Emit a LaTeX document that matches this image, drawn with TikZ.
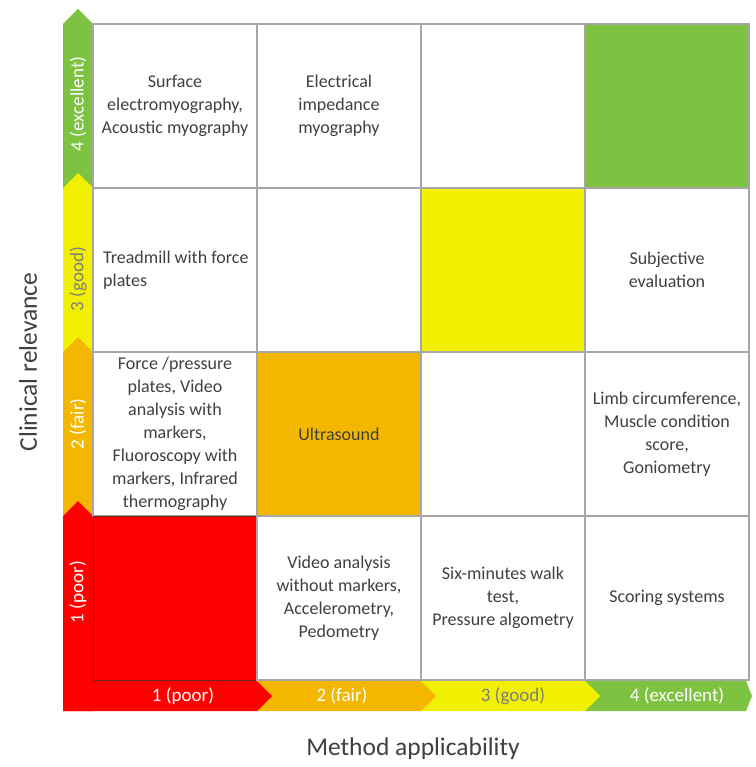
\documentclass[tikz,border=0pt]{standalone}
\usepackage{fontspec}
\setmainfont{Carlito}
\definecolor{redc}{HTML}{FF0000}
\definecolor{orangec}{HTML}{F3B700}
\definecolor{yellowc}{HTML}{F0F000}
\definecolor{greenc}{HTML}{7EC242}
\definecolor{gridgray}{HTML}{A6A6A6}
\definecolor{textgray}{HTML}{404040}
\definecolor{labgray}{HTML}{7F7F7F}
\definecolor{redborder}{HTML}{7A2020}
\begin{document}
\begin{tikzpicture}[x=1pt,y=-1pt,
  cell/.style={draw=gridgray, line width=1.4pt, minimum width=164pt, minimum height=164pt, inner sep=0pt, anchor=center, font=\fontsize{18}{23}\selectfont, align=center, text=textgray},
  lab/.style={font=\fontsize{19}{22}\selectfont, text=white, inner sep=0pt},
  axis/.style={font=\fontsize{25.5}{30}\selectfont, text=textgray, inner sep=0pt},
]
\useasboundingbox (0,0) rectangle (755,767);
\fill[white] (0,0) rectangle (755,767);

% left arrow (clinical relevance)
\fill[greenc] (63,188) -- (63,24) -- (78,9) -- (93,24) -- (93,188) -- cycle;
\fill[yellowc] (63,352) -- (63,188) -- (78,173) -- (93,188) -- (93,352) -- cycle;
\fill[orangec] (63,516) -- (63,352) -- (78,337) -- (93,352) -- (93,516) -- cycle;
\fill[redc] (63,711) -- (63,516) -- (78,501) -- (93,516) -- (93,711) -- cycle;

% bottom arrow (method applicability)
\fill[greenc] (585,681) -- (746,681) -- (752,696) -- (746,711) -- (585,711) -- cycle;
\fill[yellowc] (421,681) -- (585,681) -- (600,696) -- (585,711) -- (421,711) -- cycle;
\fill[orangec] (257,681) -- (421,681) -- (436,696) -- (421,711) -- (257,711) -- cycle;
\fill[redc] (63,681) -- (257,681) -- (272,696) -- (257,711) -- (63,711) -- cycle;

% grid cells
\node[cell] (c14) at (175,106) {Surface\\electromyography,\\Acoustic myography};
\node[cell] (c24) at (339,106) {Electrical\\impedance\\myography};
\node[cell] (c34) at (503,106) {};
\node[cell, fill=greenc] (c44) at (667,106) {};

\node[cell] (c13) at (175,270) {};
\node[cell] (c23) at (339,270) {};
\node[cell, fill=yellowc] (c33) at (503,270) {};
\node[cell] (c43) at (667,270) {Subjective\\evaluation};

\node[cell] (c12) at (175,434) {Force /pressure\\plates, Video\\analysis with\\markers,\\Fluoroscopy with\\markers, Infrared\\thermography};
\node[cell, fill=orangec] (c22) at (339,434) {Ultrasound};
\node[cell] (c32) at (503,434) {};
\node[cell] (c42) at (667,434) {Limb circumference,\\Muscle condition\\score,\\Goniometry};

\node[cell, fill=redc, draw=redborder, line width=1pt] (c11) at (175,598) {};
\node[cell] (c21) at (339,598) {Video analysis\\without markers,\\Accelerometry,\\Pedometry};
\node[cell] (c31) at (503,598) {Six-minutes walk\\test,\\Pressure algometry};
\node[cell] (c41) at (667,598) {Scoring systems};

\node[font=\fontsize{18}{23}\selectfont, align=left, text=textgray, anchor=west, inner sep=0pt] (t13) at (103,270) {Treadmill with force\\plates};

% left arrow labels
\node[lab, rotate=90] (l4) at (78,104) {4 (excellent)};
\node[lab, rotate=90, text=labgray] (l3) at (78,279) {3 (good)};
\node[lab, rotate=90] (l2) at (78,424) {2 (fair)};
\node[lab, rotate=90] (l1) at (78,592) {1 (poor)};

% bottom arrow labels
\node[lab] (b1) at (183,696) {1 (poor)};
\node[lab] (b2) at (342,696) {2 (fair)};
\node[lab, text=labgray] (b3) at (513,696) {3 (good)};
\node[lab] (b4) at (677,696) {4 (excellent)};

% axis titles
\node[axis, rotate=90] (ytitle) at (28,362) {Clinical relevance};
\node[axis] (xtitle) at (413,749) {Method applicability};
\end{tikzpicture}
\end{document}
